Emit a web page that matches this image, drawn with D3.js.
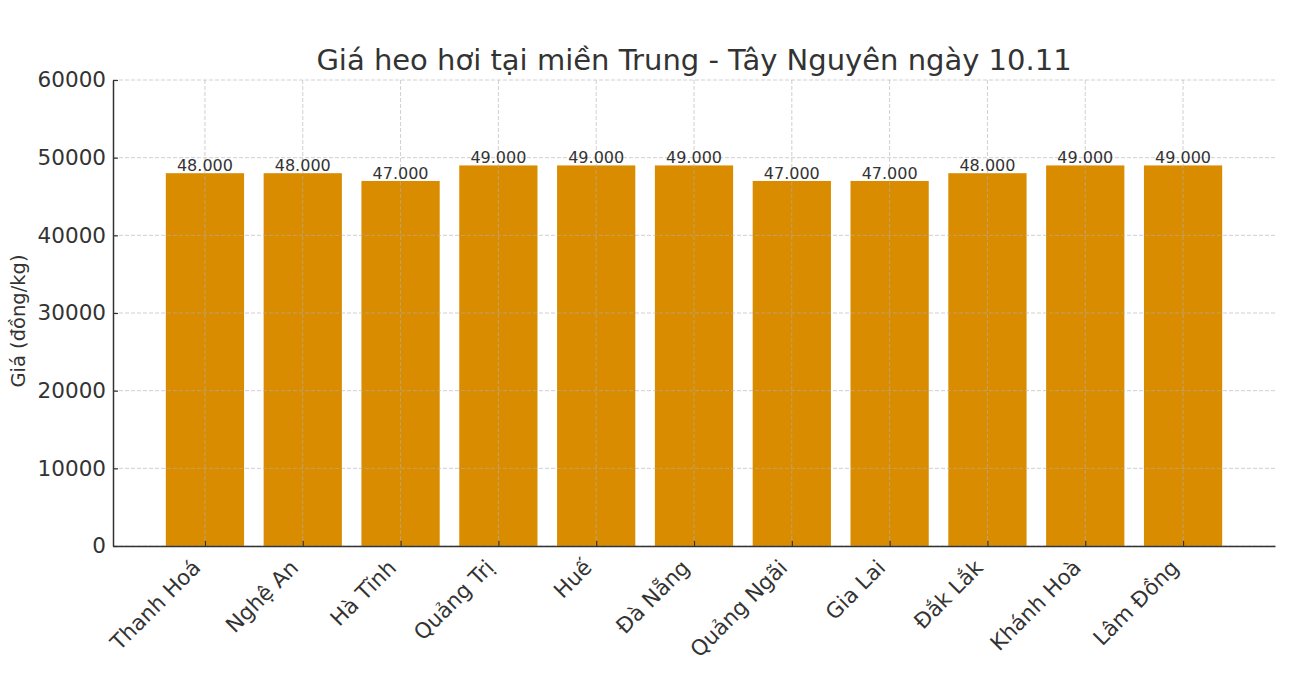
<!DOCTYPE html>
<html><head><meta charset="utf-8">
<script src="https://cdn.jsdelivr.net/npm/d3@7/dist/d3.min.js"></script>
<style>body{margin:0;background:#fff}text{font-family:"DejaVu Sans",sans-serif;fill:#333}</style>
</head><body><svg id="c" width="1304" height="678"></svg>
<script>
const categories = ["Thanh Hoá","Nghệ An","Hà Tĩnh","Quảng Trị","Huế","Đà Nẵng","Quảng Ngãi","Gia Lai","Đắk Lắk","Khánh Hoà","Lâm Đồng"];
const prices = [48000,48000,47000,49000,49000,49000,47000,47000,48000,49000,49000];
const priceLabels = ["48.000","48.000","47.000","49.000","49.000","49.000","47.000","47.000","48.000","49.000","49.000"];
const yTicks = [0,10000,20000,30000,40000,50000,60000];
const title = "Giá heo hơi tại miền Trung - Tây Nguyên ngày 10.11";
const yTitle = "Giá (đồng/kg)";

const L=113,R=1275,T=80,B=546;
const svg=d3.select("#c");
const n=categories.length;
const x=d3.scaleLinear().domain([-0.94,n-1+0.94]).range([L,R]);
const y=d3.scaleLinear().domain([0,60000]).range([B,T]);
const bw=x(0.8)-x(0);

svg.selectAll("rect.bar").data(prices).join("rect").attr("class","bar")
  .attr("x",(d,i)=>x(i-0.4)).attr("width",bw)
  .attr("y",d=>y(d)).attr("height",d=>B-y(d)).attr("fill","#d98c00");

// grid
const g=svg.append("g").attr("stroke","#b0b0b0").attr("stroke-opacity",0.6).attr("stroke-dasharray","4,2").attr("stroke-width",1);
yTicks.forEach(t=>g.append("line").attr("x1",L).attr("x2",R).attr("y1",y(t)).attr("y2",y(t)));
categories.forEach((c,i)=>g.append("line").attr("x1",x(i)).attr("x2",x(i)).attr("y1",T).attr("y2",B));

// bar labels
svg.selectAll("text.val").data(prices).join("text").attr("class","val")
  .attr("x",(d,i)=>x(i)).attr("y",d=>y(d)-2).attr("text-anchor","middle")
  .attr("font-size",16).text((d,i)=>priceLabels[i]);

// axes
const ya=d3.axisLeft(y).tickValues(yTicks).tickFormat(d3.format("d")).tickSizeInner(-5).tickSizeOuter(0).tickPadding(7);
const yg=svg.append("g").attr("transform",`translate(${L},0)`).call(ya);
yg.selectAll("text").attr("font-size",21.5).attr("font-family","DejaVu Sans").attr("fill","#333");
yg.select(".domain").attr("stroke","#333").attr("stroke-width",1.5);
yg.selectAll(".tick line").attr("stroke","#333").attr("stroke-width",1.2);

const xa=d3.axisBottom(x).tickValues(d3.range(n)).tickFormat("").tickSizeInner(-5).tickSizeOuter(0);
const xg=svg.append("g").attr("transform",`translate(0,${B})`).call(xa);
xg.select(".domain").attr("stroke","#333").attr("stroke-width",1.5);
xg.selectAll(".tick line").attr("stroke","#333").attr("stroke-width",1.2);

svg.selectAll("text.cat").data(categories).join("text").attr("class","cat")
  .attr("transform",(d,i)=>`translate(${x(i)-3},${B+23}) rotate(-45)`)
  .attr("text-anchor","end").attr("font-size",21.5).text(d=>d);

svg.append("text").attr("x",(L+R)/2).attr("y",70).attr("text-anchor","middle").attr("font-size",29).text(title);
svg.append("text").attr("transform",`translate(25,321) rotate(-90)`).attr("text-anchor","middle").attr("font-size",19.5).text(yTitle);
</script></body></html>
